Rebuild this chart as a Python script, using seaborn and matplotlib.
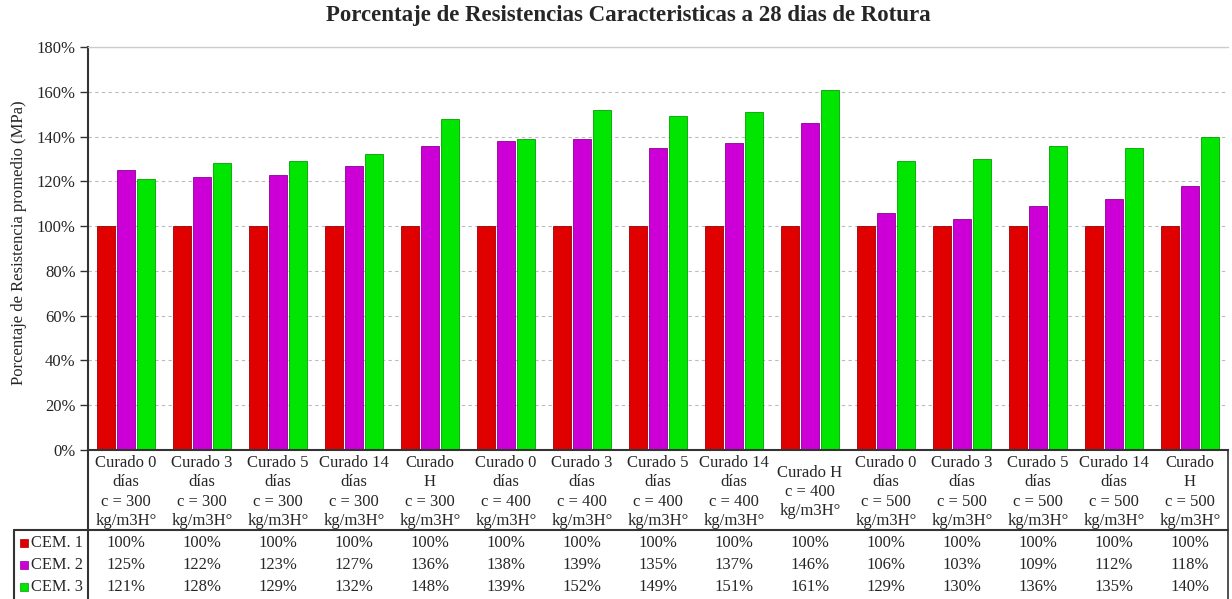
import numpy as np
import pandas as pd
import seaborn as sns
import matplotlib.pyplot as plt
from matplotlib.lines import Line2D
from matplotlib.patches import Rectangle

categories = [
    "Curado 0\ndías\nc = 300\nkg/m3H°", "Curado 3\ndías\nc = 300\nkg/m3H°",
    "Curado 5\ndías\nc = 300\nkg/m3H°", "Curado 14\ndías\nc = 300\nkg/m3H°",
    "Curado\nH\nc = 300\nkg/m3H°", "Curado 0\ndías\nc = 400\nkg/m3H°",
    "Curado 3\ndías\nc = 400\nkg/m3H°", "Curado 5\ndías\nc = 400\nkg/m3H°",
    "Curado 14\ndías\nc = 400\nkg/m3H°", "Curado H\nc = 400\nkg/m3H°",
    "Curado 0\ndías\nc = 500\nkg/m3H°", "Curado 3\ndías\nc = 500\nkg/m3H°",
    "Curado 5\ndías\nc = 500\nkg/m3H°", "Curado 14\ndías\nc = 500\nkg/m3H°",
    "Curado\nH\nc = 500\nkg/m3H°",
]
series_names = ["CEM. 1", "CEM. 2", "CEM. 3"]
cem1 = [100, 100, 100, 100, 100, 100, 100, 100, 100, 100, 100, 100, 100, 100, 100]
cem2 = [125, 122, 123, 127, 136, 138, 139, 135, 137, 146, 106, 103, 109, 112, 118]
cem3 = [121, 128, 129, 132, 148, 139, 152, 149, 151, 161, 129, 130, 136, 135, 140]
yticks = [0, 20, 40, 60, 80, 100, 120, 140, 160, 180]
colors = ["#E00000", "#CC00D6", "#00E600"]
edges = ["#A00000", "#8E0096", "#00A000"]

sns.set_style("white")
plt.rcParams['font.family'] = ['Liberation Serif', 'DejaVu Serif']

df = pd.DataFrame({
    "cat": list(range(len(categories))) * 3,
    "serie": sum([[s] * len(categories) for s in series_names], []),
    "val": cem1 + cem2 + cem3,
})

W, H = 1232, 599
fig = plt.figure(figsize=(W / 100, H / 100), dpi=100)
L, R, T, B = 88, 1228, 47, 450
ax = fig.add_axes([L / W, 1 - B / H, (R - L) / W, (B - T) / H])

sns.barplot(data=df, x="cat", y="val", hue="serie", palette=colors, width=0.8,
            ax=ax, legend=False, saturation=1)

for i, p in enumerate(ax.patches):
    s = i // len(categories)
    w = p.get_width()
    nw = w * 0.88
    p.set_x(p.get_x() + (w - nw) / 2)
    p.set_width(nw)
    p.set_edgecolor(edges[s % 3])
    p.set_linewidth(0.6)

ax.set_xlim(-0.5, len(categories) - 0.5)
ax.set_ylim(0, 180)
ax.set_yticks(yticks)
ax.set_yticklabels([f"{v}%" for v in yticks], fontsize=12)
ax.yaxis.grid(True, linestyle=(0, (3, 3)), color="#BBBBBB", linewidth=0.8)
ax.set_axisbelow(True)
ax.set_xticks([])
ax.set_xlabel("")
ax.set_ylabel("")
ax.tick_params(axis="y", left=True, length=6, width=1, color="#333333", pad=3)
ax.spines["right"].set_visible(False)
ax.spines["top"].set_color("#CCCCCC")
ax.spines["top"].set_linewidth(1)
ax.spines["left"].set_color("#333333")
ax.spines["left"].set_linewidth(1.5)
ax.spines["bottom"].set_color("#333333")
ax.spines["bottom"].set_linewidth(1.5)

tr = ax.get_xaxis_transform()
for i, c in enumerate(categories):
    ax.text(i, -42 / (B - T), c, transform=tr, ha="center", va="center",
            fontsize=12, linespacing=1.27, clip_on=False)

rows_y = [543, 565, 587]
for r, vals in enumerate([cem1, cem2, cem3]):
    for i, v in enumerate(vals):
        ax.text(i, -(rows_y[r] - B) / (B - T), f"{v}%", transform=tr,
                ha="center", va="center", fontsize=12, clip_on=False)
    fig.text(31 / W, 1 - rows_y[r] / H, series_names[r], ha="left", va="center", fontsize=11.8)
    fig.patches.append(Rectangle((20 / W, 1 - (rows_y[r] + 4) / H), 8 / W, 8 / H,
                                 transform=fig.transFigure, facecolor=colors[r],
                                 edgecolor=edges[r], linewidth=0.5))

def fline(x0, y0, x1, y1, lw=1.5):
    fig.add_artist(Line2D([x0 / W, x1 / W], [1 - y0 / H, 1 - y1 / H],
                          transform=fig.transFigure, color="#333333", linewidth=lw))

fline(L, B, L, H)
fline(L, 530, R, 530)
fline(14, 530, L, 530)
fline(14, 530, 14, H)
fline(R, B, R, H, lw=1.2)

fig.text(19 / W, 1 - 243 / H, "Porcentaje de Resistencia promedio (MPa)",
         rotation=90, ha="center", va="center", fontsize=12)
fig.text(628 / W, 1 - 16 / H, "Porcentaje de Resistencias Caracteristicas a 28 dias de Rotura",
         ha="center", va="center", fontsize=16.5, fontweight="bold")

fig.savefig("out.png", dpi=100)
